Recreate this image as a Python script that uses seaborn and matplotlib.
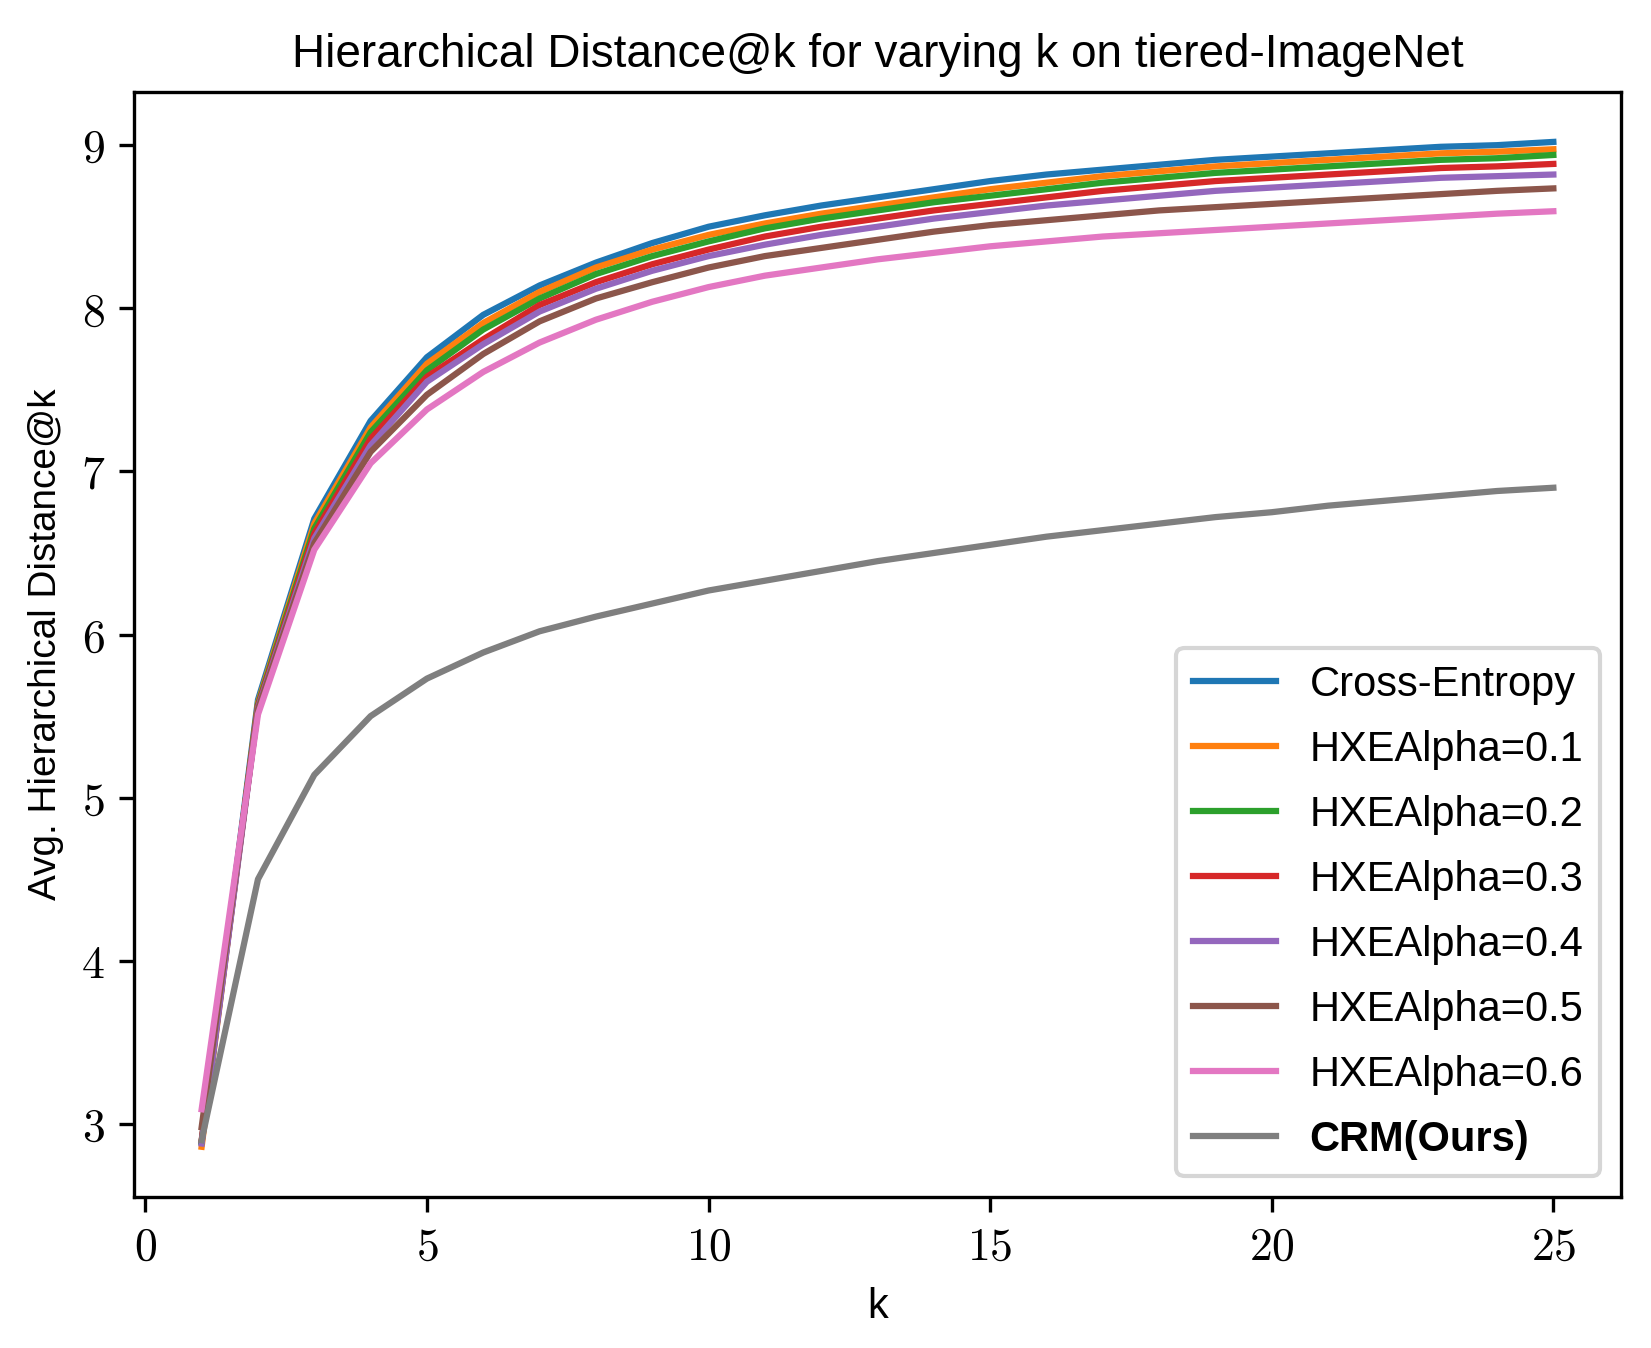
import matplotlib
matplotlib.use('Agg')
import matplotlib.pyplot as plt
from matplotlib.ticker import FuncFormatter
import seaborn as sns
import pandas as pd

# data (k = 1..25)
k = list(range(1, 26))

cross_entropy = [2.89, 5.60, 6.71, 7.31, 7.70, 7.96, 8.14, 8.28, 8.40, 8.50, 8.57, 8.63, 8.68,
                 8.73, 8.78, 8.82, 8.85, 8.88, 8.91, 8.93, 8.95, 8.97, 8.99, 9.00, 9.02]
hxe_01 = [2.86, 5.58, 6.68, 7.27, 7.66, 7.91, 8.10, 8.25, 8.36, 8.45, 8.52, 8.58, 8.63,
          8.68, 8.73, 8.77, 8.81, 8.84, 8.87, 8.89, 8.91, 8.93, 8.95, 8.96, 8.975]
hxe_02 = [2.89, 5.57, 6.65, 7.24, 7.62, 7.87, 8.06, 8.21, 8.32, 8.41, 8.49, 8.55, 8.60,
          8.65, 8.69, 8.73, 8.77, 8.80, 8.83, 8.85, 8.87, 8.89, 8.91, 8.92, 8.94]
hxe_03 = [2.90, 5.56, 6.62, 7.20, 7.58, 7.81, 8.02, 8.16, 8.27, 8.36, 8.44, 8.50, 8.55,
          8.60, 8.64, 8.68, 8.72, 8.75, 8.78, 8.80, 8.82, 8.84, 8.86, 8.87, 8.885]
hxe_04 = [2.88, 5.55, 6.59, 7.16, 7.55, 7.78, 7.98, 8.12, 8.23, 8.32, 8.39, 8.45, 8.50,
          8.55, 8.59, 8.63, 8.66, 8.69, 8.72, 8.74, 8.76, 8.78, 8.80, 8.81, 8.82]
hxe_05 = [2.98, 5.54, 6.56, 7.12, 7.47, 7.72, 7.92, 8.06, 8.16, 8.25, 8.32, 8.37, 8.42,
          8.47, 8.51, 8.54, 8.57, 8.60, 8.62, 8.64, 8.66, 8.68, 8.70, 8.72, 8.735]
hxe_06 = [3.09, 5.51, 6.52, 7.05, 7.38, 7.61, 7.79, 7.93, 8.04, 8.13, 8.20, 8.25, 8.30,
          8.34, 8.38, 8.41, 8.44, 8.46, 8.48, 8.50, 8.52, 8.54, 8.56, 8.58, 8.595]
crm = [2.90, 4.50, 5.14, 5.50, 5.73, 5.89, 6.02, 6.11, 6.19, 6.27, 6.33, 6.39, 6.45,
       6.50, 6.55, 6.60, 6.64, 6.68, 6.72, 6.75, 6.79, 6.82, 6.85, 6.88, 6.90]

methods = ['Cross-Entropy', 'HXEAlpha=0.1', 'HXEAlpha=0.2', 'HXEAlpha=0.3',
           'HXEAlpha=0.4', 'HXEAlpha=0.5', 'HXEAlpha=0.6', 'CRM(Ours)']
series = [cross_entropy, hxe_01, hxe_02, hxe_03, hxe_04, hxe_05, hxe_06, crm]

rows = []
for name, vals in zip(methods, series):
    for kk, v in zip(k, vals):
        rows.append({'k': kk, 'dist': v, 'method': name})
df = pd.DataFrame(rows)

plt.rcParams['font.family'] = ['Liberation Sans', 'DejaVu Sans']
plt.rcParams['mathtext.fontset'] = 'cm'

fig = plt.figure(figsize=(1651 / 300, 1348 / 300), dpi=300)
ax = fig.add_axes([0.0812, 0.112, 0.9006, 0.820])

sns.lineplot(data=df, x='k', y='dist', hue='method', hue_order=methods,
             palette=sns.color_palette('tab10', 8), errorbar=None,
             linewidth=1.5, ax=ax)

ax.set_xticks([0, 5, 10, 15, 20, 25])
ax.xaxis.set_major_formatter(FuncFormatter(lambda v, p: f'${int(v)}$'))
ax.yaxis.set_major_formatter(FuncFormatter(lambda v, p: f'${int(v)}$'))
ax.tick_params(labelsize=11)

ax.set_xlabel('k', fontsize=10)
ax.set_ylabel('Avg. Hierarchical Distance@k', fontsize=9.3)
ax.set_title('Hierarchical Distance@k for varying k on tiered-ImageNet', fontsize=11)

sns.move_legend(ax, 'lower right', title=None, fontsize=10, labelspacing=0.6)
leg = ax.get_legend()
leg.get_texts()[-1].set_fontweight('bold')

fig.savefig('out.png', dpi=300)
